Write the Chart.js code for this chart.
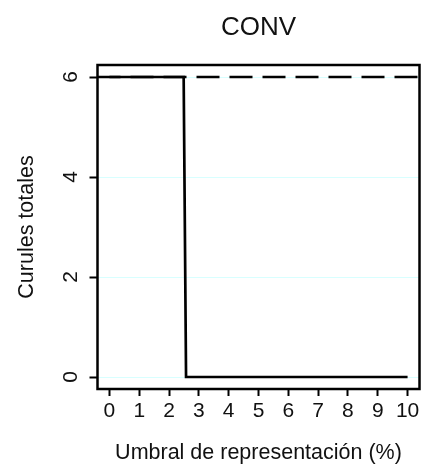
<!DOCTYPE html>
<html><head><meta charset="utf-8">
<script src="https://cdn.jsdelivr.net/npm/chart.js@4/dist/chart.umd.min.js"></script>
<style>html,body{margin:0;padding:0;background:#fff;overflow:hidden}#wrap{width:434px;height:470px}</style>
</head><body><div id="wrap"><canvas id="c" width="434" height="470"></canvas></div>
<script>
// ---- data ----
const chartTitle = 'CONV';
const xAxisTitle = 'Umbral de representación (%)';
const yAxisTitle = 'Curules totales';
const thresholds = [0, 2.49, 2.57, 10];
const seats = [6, 6, 0, 0];
const maxSeats = 6;
const xTicks = [0, 1, 2, 3, 4, 5, 6, 7, 8, 9, 10];
const yTicks = [0, 2, 4, 6];
const X_MIN = -0.4, X_MAX = 10.4, Y_MIN = -0.24, Y_MAX = 6.24;

// ---- chart ----
const FONT = '"Liberation Sans", Arial, Helvetica, sans-serif';
Chart.defaults.font.family = FONT;
Chart.defaults.color = '#111';

const boxAndTitle = {
  id: 'boxAndTitle',
  afterDatasetsDraw(chart) {
    const a = chart.chartArea, ctx = chart.ctx;
    ctx.save();
    ctx.strokeStyle = '#000';
    ctx.lineWidth = 2.5;
    ctx.strokeRect(a.left, a.top, a.right - a.left, a.bottom - a.top);
    ctx.restore();
  },
  afterDraw(chart) {
    const a = chart.chartArea, ctx = chart.ctx;
    ctx.save();
    ctx.fillStyle = '#111';
    ctx.font = '26px ' + FONT;
    ctx.textAlign = 'center';
    ctx.textBaseline = 'alphabetic';
    ctx.fillText(chartTitle, (a.left + a.right) / 2, 35);
    ctx.restore();
  }
};

new Chart(document.getElementById('c'), {
  type: 'scatter',
  data: {
    datasets: [
      {
        data: thresholds.map((x, i) => ({x, y: seats[i]})),
        showLine: true, borderColor: '#000', borderWidth: 2.7,
        pointRadius: 0, fill: false, tension: 0
      },
      {
        data: [{x: X_MIN, y: maxSeats}, {x: X_MAX, y: maxSeats}],
        showLine: true, borderColor: '#000', borderWidth: 2.7,
        borderDash: [23, 10], pointRadius: 0, fill: false, tension: 0
      }
    ]
  },
  options: {
    responsive: false, animation: false, devicePixelRatio: 1,
    layout: {padding: {top: 65, right: 14.5, left: 0, bottom: 0}},
    plugins: {legend: {display: false}, tooltip: {enabled: false}, title: {display: false}},
    scales: {
      x: {
        type: 'linear', min: X_MIN, max: X_MAX,
        afterBuildTicks: s => { s.ticks = xTicks.map(v => ({value: v})); },
        afterFit: s => { s.height = 81; },
        border: {display: false},
        grid: {drawOnChartArea: false, drawTicks: true, tickLength: 7, tickColor: '#000', tickWidth: 2},
        ticks: {font: {size: 21}, padding: 3, maxRotation: 0, minRotation: 0, color: '#111', autoSkip: false},
        title: {display: true, text: xAxisTitle, font: {size: 21.5}, color: '#111', padding: {top: 0, bottom: 4}}
      },
      y: {
        type: 'linear', min: Y_MIN, max: Y_MAX,
        afterBuildTicks: s => { s.ticks = yTicks.map(v => ({value: v})); },
        afterFit: s => { s.width = 97.5; },
        border: {display: false},
        grid: {drawOnChartArea: true, color: '#d8ffff', lineWidth: 1, drawTicks: true, tickLength: 8, tickColor: '#000', tickWidth: 2},
        ticks: {font: {size: 21}, padding: 12, minRotation: 90, maxRotation: 90, crossAlign: 'center', color: '#111', autoSkip: false},
        title: {display: true, text: yAxisTitle, font: {size: 21.5}, color: '#111', padding: {top: 14, bottom: 0}}
      }
    }
  },
  plugins: [boxAndTitle]
});
</script>
</body></html>
